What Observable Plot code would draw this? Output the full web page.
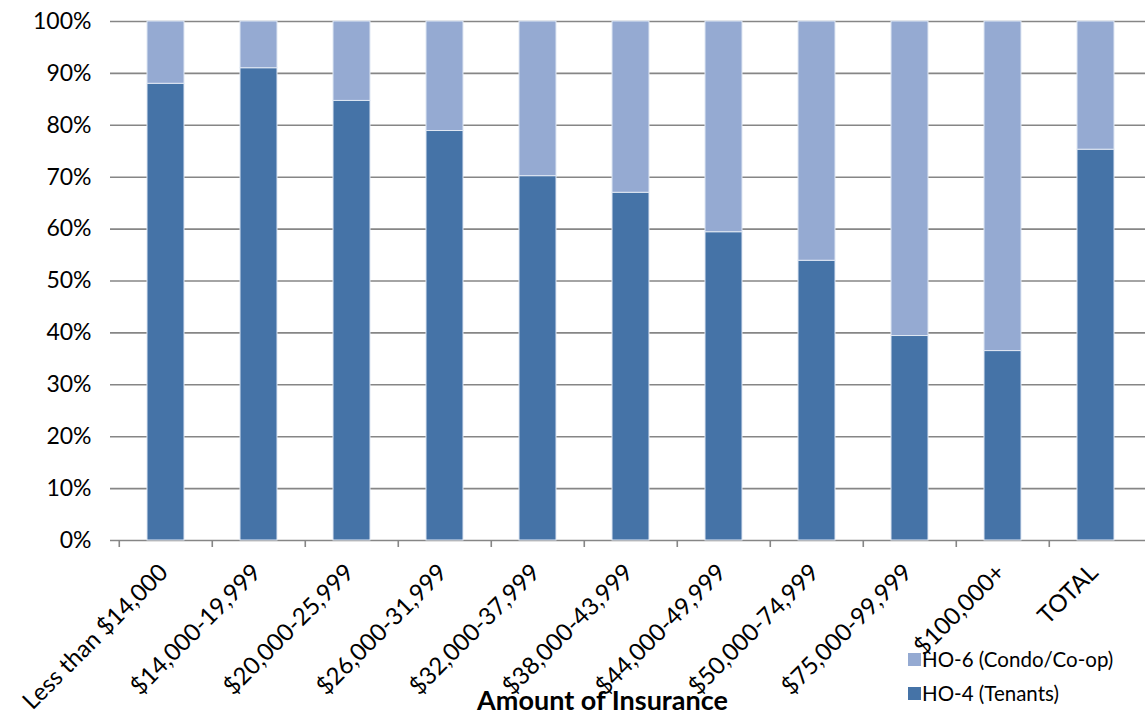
<!DOCTYPE html>
<html>
<head>
<meta charset="utf-8">
<script src="https://cdn.jsdelivr.net/npm/d3@7"></script>
<script src="https://cdn.jsdelivr.net/npm/@observablehq/plot@0.6"></script>
<style>
  html, body { margin: 0; padding: 0; background: #fff; }
  #wrap { position: relative; width: 1145px; height: 718px; font-family: Lato, "Open Sans", sans-serif; }
  #xtitle { position: absolute; left: 0; width: 1205px; top: 684px; text-align: center; font-weight: bold; font-size: 27px; color: #000; line-height: 32px; }
  .leg { position: absolute; left: 908px; font-size: 20.5px; color: #000; display: flex; align-items: center; line-height: 22px; }
  .leg span.sw { display: inline-block; width: 13px; height: 13px; margin-right: 1px; }
</style>
</head>
<body>
<div id="wrap">
  <div id="chart"></div>
  <div id="xtitle">Amount of Insurance</div>
  <div class="leg" style="top:648px"><span class="sw" style="background:#95AAD2"></span>HO-6 (Condo/Co-op)</div>
  <div class="leg" style="top:682px"><span class="sw" style="background:#4573A7"></span>HO-4 (Tenants)</div>
</div>
<script>
const categories = ["Less than $14,000", "$14,000-19,999", "$20,000-25,999", "$26,000-31,999", "$32,000-37,999", "$38,000-43,999", "$44,000-49,999", "$50,000-74,999", "$75,000-99,999", "$100,000+", "TOTAL"];
const ho4 = [88.0, 91.0, 84.7, 78.9, 70.2, 67.0, 59.4, 53.9, 39.4, 36.5, 75.3];
const ho6 = [12.0, 9.0, 15.3, 21.1, 29.8, 33.0, 40.6, 46.1, 60.6, 63.5, 24.7];
const seriesNames = ["HO-4 (Tenants)", "HO-6 (Condo/Co-op)"];
const seriesColors = ["#4573A7", "#95AAD2"];
const yTicks = [0, 10, 20, 30, 40, 50, 60, 70, 80, 90, 100];

const rows = [];
categories.forEach((c, i) => {
  rows.push({cat: c, series: seriesNames[0], value: ho4[i]});
  rows.push({cat: c, series: seriesNames[1], value: ho6[i]});
});

const W = 1145, H = 718, mL = 117, mR = 0, mT = 21, mB = 178;
const step = (W - mL - mR) / categories.length;

const chart = Plot.plot({
  width: W, height: H,
  marginLeft: mL, marginRight: mR, marginTop: mT, marginBottom: mB,
  style: {fontFamily: "Lato, 'Open Sans', sans-serif", fontSize: "23px", color: "#000", background: "#fff"},
  x: {domain: categories, paddingInner: 0.6, paddingOuter: 0.3, label: null},
  y: {domain: [0, 100], label: null},
  color: {domain: seriesNames, range: seriesColors},
  marks: [
    Plot.ruleY(yTicks, {y: d => d, stroke: "#868686", strokeWidth: 1.6, insetLeft: -7}),
    Plot.barY(rows, Plot.stackY({x: "cat", y: "value", fill: "series", order: seriesNames, stroke: "#dfe7f3", strokeWidth: 1})),
    Plot.ruleX([0], {frameAnchor: "left", stroke: "#868686", strokeWidth: 1.6}),
    Plot.ruleX(categories, {x: d => d, dx: -step / 2, y1: 0, y2: 0, insetTop: 7, stroke: "#868686", strokeWidth: 1.6}),
    Plot.axisY({ticks: yTicks, tickFormat: d => d + "%", tickSize: 0, tickPadding: 26, fontSize: 23}),
    Plot.axisX({tickSize: 0, tickRotate: -45, tickPadding: 28, dx: -2, fontSize: 24, label: null})
  ]
});
document.getElementById("chart").appendChild(chart);
</script>
</body>
</html>
